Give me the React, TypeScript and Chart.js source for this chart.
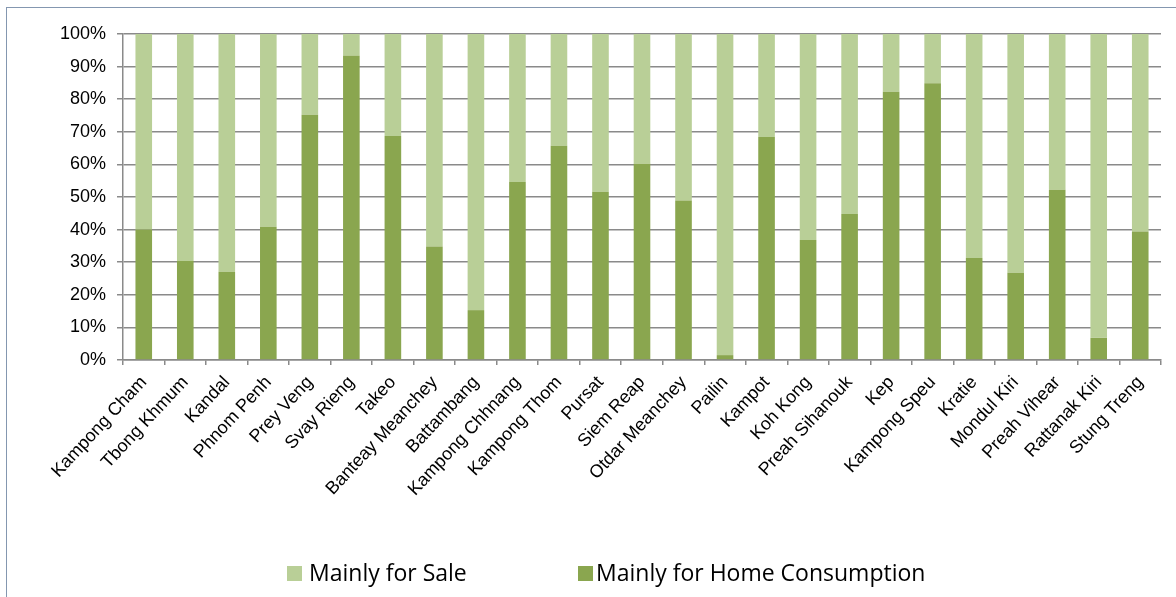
import React, { useEffect, useRef } from "react";
import { Chart, registerables } from "chart.js";

Chart.register(...registerables);

const provinces = [
  "Kampong Cham", "Tbong Khmum", "Kandal", "Phnom Penh", "Prey Veng", "Svay Rieng",
  "Takeo", "Banteay Meanchey", "Battambang", "Kampong Chhnang", "Kampong Thom", "Pursat",
  "Siem Reap", "Otdar Meanchey", "Pailin", "Kampot", "Koh Kong", "Preah Sihanouk", "Kep",
  "Kampong Speu", "Kratie", "Mondul Kiri", "Preah Vihear", "Rattanak Kiri", "Stung Treng",
];

const homeConsumption = [
  40.0, 30.4, 27.1, 40.9, 75.2, 93.3, 68.7, 34.8, 15.3, 54.6, 65.7, 51.6, 60.2,
  48.9, 1.5, 68.4, 36.8, 44.8, 82.3, 84.9, 31.3, 26.8, 52.2, 6.8, 39.4,
];

const forSale = [
  60.0, 69.6, 72.9, 59.1, 24.8, 6.7, 31.3, 65.2, 84.7, 45.4, 34.3, 48.4, 39.8,
  51.1, 98.5, 31.6, 63.2, 55.2, 17.7, 15.1, 68.7, 73.2, 47.8, 93.2, 60.6,
];

const yTicks = [0, 10, 20, 30, 40, 50, 60, 70, 80, 90, 100];

const seriesNames = ["Mainly for Sale", "Mainly for Home Consumption"];
const saleColor = "#B9CF97";
const homeColor = "#8AA64F";

const W = 1176;
const H = 597;

export default function App() {
  const ref = useRef<HTMLCanvasElement | null>(null);

  useEffect(() => {
    if (!ref.current) return;
    const chart = new Chart(ref.current, {
      type: "bar",
      data: {
        labels: provinces,
        datasets: [
          {
            label: seriesNames[1],
            data: homeConsumption,
            backgroundColor: homeColor,
            categoryPercentage: 0.4,
            barPercentage: 1,
          },
          {
            label: seriesNames[0],
            data: forSale,
            backgroundColor: saleColor,
            categoryPercentage: 0.4,
            barPercentage: 1,
          },
        ],
      },
      options: {
        animation: false,
        responsive: false,
        devicePixelRatio: 1,
        layout: { padding: { left: 0, top: 34, right: 15, bottom: 0 } },
        plugins: {
          legend: { display: false },
          tooltip: { enabled: false },
          title: { display: false },
        },
        scales: {
          x: {
            stacked: true,
            offset: true,
            grid: {
              offset: true,
              drawOnChartArea: false,
              drawTicks: true,
              tickLength: 5,
              color: "#8a8a8a",
              lineWidth: 1.5,
            },
            border: { display: true, color: "#8a8a8a", width: 1.5 },
            ticks: {
              autoSkip: false,
              minRotation: 47,
              maxRotation: 47,
              padding: 7,
              color: "#000",
              font: { family: "'Liberation Sans', Arial, sans-serif", size: 18 },
            },
            afterFit: (s: any) => {
              s.height = H - 360;
            },
          },
          y: {
            stacked: true,
            min: 0,
            max: 100,
            afterBuildTicks: (s: any) => {
              s.ticks = yTicks.map((v) => ({ value: v }));
            },
            grid: {
              color: "#8a8a8a",
              lineWidth: 1.5,
              drawTicks: true,
              tickLength: 6,
            },
            border: { display: true, color: "#8a8a8a", width: 1.5 },
            ticks: {
              padding: 11,
              color: "#000",
              font: { family: "'Liberation Sans', Arial, sans-serif", size: 18 },
              callback: (v: any) => v + "%",
            },
            afterFit: (s: any) => {
              s.width = 123;
            },
          },
        },
      },
    });
    return () => chart.destroy();
  }, []);

  const legendFont: React.CSSProperties = {
    position: "absolute",
    fontFamily: "'Open Sans', sans-serif",
    fontSize: 23,
    lineHeight: "23px",
    color: "#000",
    whiteSpace: "nowrap",
  };

  return (
    <div style={{ position: "absolute", left: 0, top: 0, width: W, height: H, overflow: "hidden", background: "#fff" }}>
      <div
        style={{
          position: "absolute",
          left: 6,
          top: 7,
          width: W + 20,
          height: H + 20,
          border: "1px solid #8497B0",
          boxSizing: "border-box",
        }}
      />
      <canvas ref={ref} width={W} height={H} style={{ position: "absolute", left: 0, top: 0 }} />
      <div style={{ position: "absolute", left: 287, top: 566, width: 15, height: 15, background: saleColor }} />
      <div style={{ ...legendFont, left: 309, top: 561 }}>{seriesNames[0]}</div>
      <div style={{ position: "absolute", left: 578, top: 566, width: 15, height: 15, background: homeColor }} />
      <div style={{ ...legendFont, left: 596, top: 561 }}>{seriesNames[1]}</div>
    </div>
  );
}
